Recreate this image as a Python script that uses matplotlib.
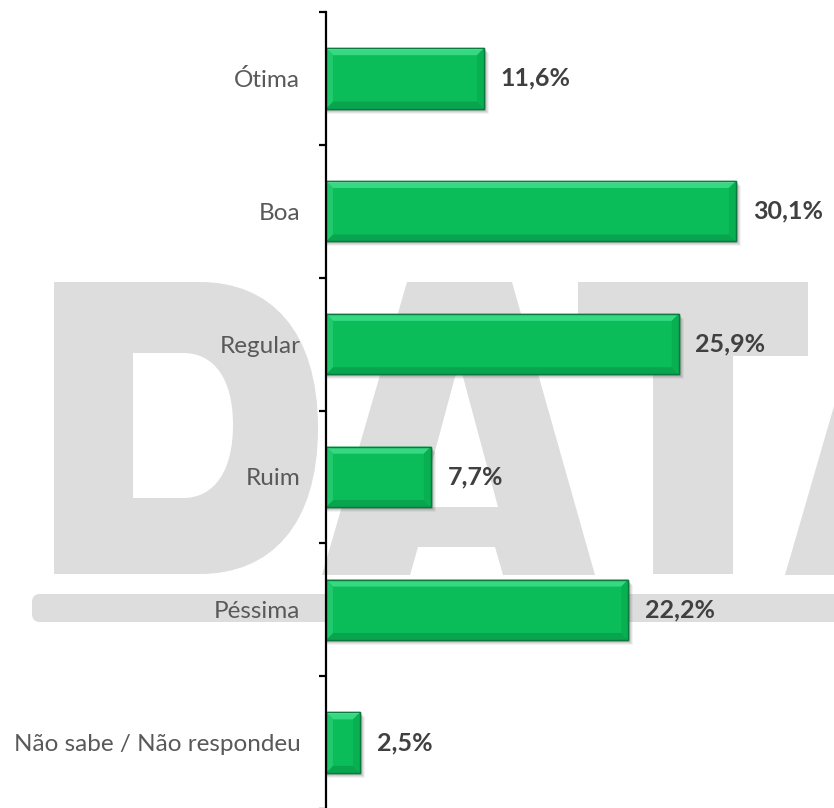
import numpy as np
import matplotlib
matplotlib.use("Agg")
import matplotlib.pyplot as plt
from matplotlib.path import Path
from matplotlib.patches import PathPatch, Polygon, FancyBboxPatch, Rectangle

# ---- data ----
categories = ["Ótima", "Boa", "Regular", "Ruim", "Péssima", "Não sabe / Não respondeu"]
values = [11.6, 30.1, 25.9, 7.7, 22.2, 2.5]
value_labels = ["11,6%", "30,1%", "25,9%", "7,7%", "22,2%", "2,5%"]

W, H = 834, 808
fig = plt.figure(figsize=(W / 100, H / 100), dpi=100)
fig.patch.set_facecolor("white")

# ---- background watermark ("DATA") in pixel coordinates ----
bg = fig.add_axes([0, 0, 1, 1], zorder=-1)
bg.set_xlim(0, W)
bg.set_ylim(H, 0)
bg.axis("off")
wm = "#dddddd"

# D
verts = [(54, 282), (200, 282), (270, 282), (318, 330), (318, 428),
         (318, 526), (270, 574), (200, 574), (54, 574), (54, 282)]
codes = [Path.MOVETO, Path.LINETO, Path.CURVE4, Path.CURVE4, Path.CURVE4,
         Path.CURVE4, Path.CURVE4, Path.CURVE4, Path.LINETO, Path.CLOSEPOLY]
verts += [(133, 353), (133, 498), (183, 498), (215, 498), (233, 470), (233, 425),
          (233, 380), (215, 353), (183, 353), (133, 353)]
codes += [Path.MOVETO, Path.LINETO, Path.LINETO, Path.CURVE4, Path.CURVE4, Path.CURVE4,
          Path.CURVE4, Path.CURVE4, Path.CURVE4, Path.CLOSEPOLY]
bg.add_patch(PathPatch(Path(verts, codes), facecolor=wm, edgecolor="none"))


def letter_a(dx):
    outer = [(407, 282), (512, 282), (595, 575), (503, 575), (495, 547),
             (418, 547), (410, 575), (322, 575)]
    hole = [(459, 362), (420, 507), (498, 507)]
    v = [(x + dx, y) for x, y in outer] + [(outer[0][0] + dx, outer[0][1])]
    c = [Path.MOVETO] + [Path.LINETO] * (len(outer) - 1) + [Path.CLOSEPOLY]
    v += [(x + dx, y) for x, y in hole] + [(hole[0][0] + dx, hole[0][1])]
    c += [Path.MOVETO] + [Path.LINETO] * (len(hole) - 1) + [Path.CLOSEPOLY]
    return PathPatch(Path(v, c), facecolor=wm, edgecolor="none")


bg.add_patch(letter_a(0))
bg.add_patch(letter_a(463))
# T
bg.add_patch(Polygon([(578, 282), (808, 282), (808, 356), (733, 356), (733, 574),
                      (653, 574), (653, 356), (578, 356)], closed=True,
                     facecolor=wm, edgecolor="none"))
# band
bg.add_patch(FancyBboxPatch((32, 594), 900, 28, boxstyle="round,pad=0,rounding_size=8",
                            facecolor=wm, edgecolor="none"))

# ---- main axes ----
ax = fig.add_axes([326 / W, -1 / H, 508 / W, 797 / H])
ax.patch.set_visible(False)
ax.set_xlim(0, 508 / 13.62)
ax.set_ylim(len(categories) - 0.5, -0.5)

y = np.arange(len(categories))
bar_h = 0.455

# pixel -> data scale
sx = (ax.get_xlim()[1] - ax.get_xlim()[0]) / 508.0
sy = (len(categories)) / 797.0

# shadows
for yi, v in zip(y, values):
    for k, a in [(5, 0.07), (4, 0.10), (3, 0.14), (2, 0.18)]:
        ax.add_patch(Rectangle((0, yi - bar_h / 2 + k * sy), v + k * sx, bar_h,
                               facecolor="#555555", alpha=a, edgecolor="none", zorder=1))

ax.barh(y, values, height=bar_h, color="#0abd59", edgecolor="#0c7a3e", linewidth=1.0, zorder=2)

# bevels
b = 7
for yi, v in zip(y, values):
    top = yi - bar_h / 2
    bot = yi + bar_h / 2
    bx = b * sx
    by = b * sy
    bxx = min(bx, v / 2)
    ax.add_patch(Polygon([(0, top), (v, top), (v - bxx, top + by), (bxx, top + by)],
                         closed=True, facecolor="#36d882", edgecolor="none", zorder=3))
    ax.add_patch(Polygon([(0, top), (0, top + 1.5 * sy), (v, top + 1.5 * sy), (v, top)],
                         closed=True, facecolor="#66eca6", edgecolor="none", zorder=3))
    ax.add_patch(Polygon([(0, bot), (v, bot), (v - bxx, bot - by), (bxx, bot - by)],
                         closed=True, facecolor="#08a44e", edgecolor="none", zorder=3))
    ax.add_patch(Polygon([(v, top), (v, bot), (v - bxx, bot - by), (v - bxx, top + by)],
                         closed=True, facecolor="#09b052", edgecolor="none", zorder=3))
    ax.add_patch(Polygon([(0, top), (0, bot), (bxx, bot - by), (bxx, top + by)],
                         closed=True, facecolor="#1fc96c", edgecolor="none", zorder=3))
    ax.add_patch(Rectangle((0, top), v, bar_h, facecolor="none", edgecolor="#0c7a3e",
                           linewidth=1.0, zorder=4))

# value labels
for yi, v, lab in zip(y, values, value_labels):
    ax.annotate(lab, xy=(v, yi), xytext=(12, 0), textcoords="offset points",
                ha="left", va="center", fontsize=18, fontweight="bold",
                color="#404040", family="Lato", zorder=5)

# axes styling
for s in ["top", "right", "bottom"]:
    ax.spines[s].set_visible(False)
ax.spines["left"].set_color("black")
ax.spines["left"].set_linewidth(1.6)
ax.spines["left"].set_zorder(6)
ax.set_xticks([])
ax.set_yticks(y)
ax.set_yticklabels(categories, fontsize=17.5, color="#595959", family="Lato")
ax.tick_params(axis="y", which="major", length=0, pad=18.5)
ax.set_yticks(np.arange(-0.5, len(categories), 1.0), minor=True)
ax.tick_params(axis="y", which="minor", length=5, width=1.6, color="black", direction="out")

fig.savefig("out.png", dpi=100)
